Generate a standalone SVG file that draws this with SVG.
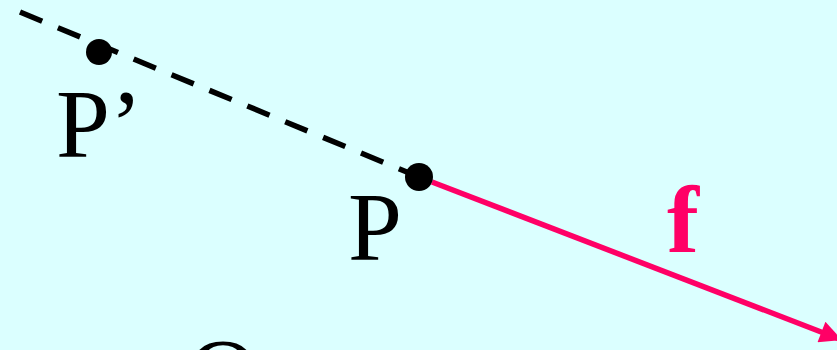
<svg xmlns="http://www.w3.org/2000/svg" width="837" height="350" viewBox="0 0 837 350">
  <defs>
    <style>
      .lbl { font-family: "Liberation Serif", "Times New Roman", serif; font-size: 97px; fill: #000; }
      .f { font-family: "Liberation Serif", "Times New Roman", serif; font-size: 96px; font-weight: bold; fill: #FF0066; }
      .dot { fill: #000; }
    </style>
    <marker id="arrow" viewBox="0 0 10 10" refX="10" refY="5" markerWidth="4.5" markerHeight="4" orient="auto" markerUnits="strokeWidth">
      <path d="M0,0 L10,5 L0,10 Z" fill="#FF0066"/>
    </marker>
  </defs>
  <rect width="837" height="350" fill="#DBFFFF"/>
  <g id="connectors">
    <line x1="20" y1="12" x2="419" y2="177" stroke="#000" stroke-width="5.5" stroke-dasharray="24 17"/>
    <line x1="432" y1="182" x2="842" y2="340" stroke="#FF0066" stroke-width="5.5" marker-end="url(#arrow)"/>
  </g>
  <g id="Pprime">
    <circle class="dot" cx="99" cy="52" r="13"/>
    <text class="lbl" x="56" y="157">P’</text>
  </g>
  <g id="P">
    <circle class="dot" cx="419" cy="177" r="14"/>
    <text class="lbl" x="348" y="260">P</text>
  </g>
  <g id="f">
    <text class="f" x="667" y="252">f</text>
  </g>
  <g id="O">
    <circle class="dot" cx="165" cy="363.5" r="13"/>
    <text class="lbl" x="188" y="406">O</text>
  </g>
</svg>
